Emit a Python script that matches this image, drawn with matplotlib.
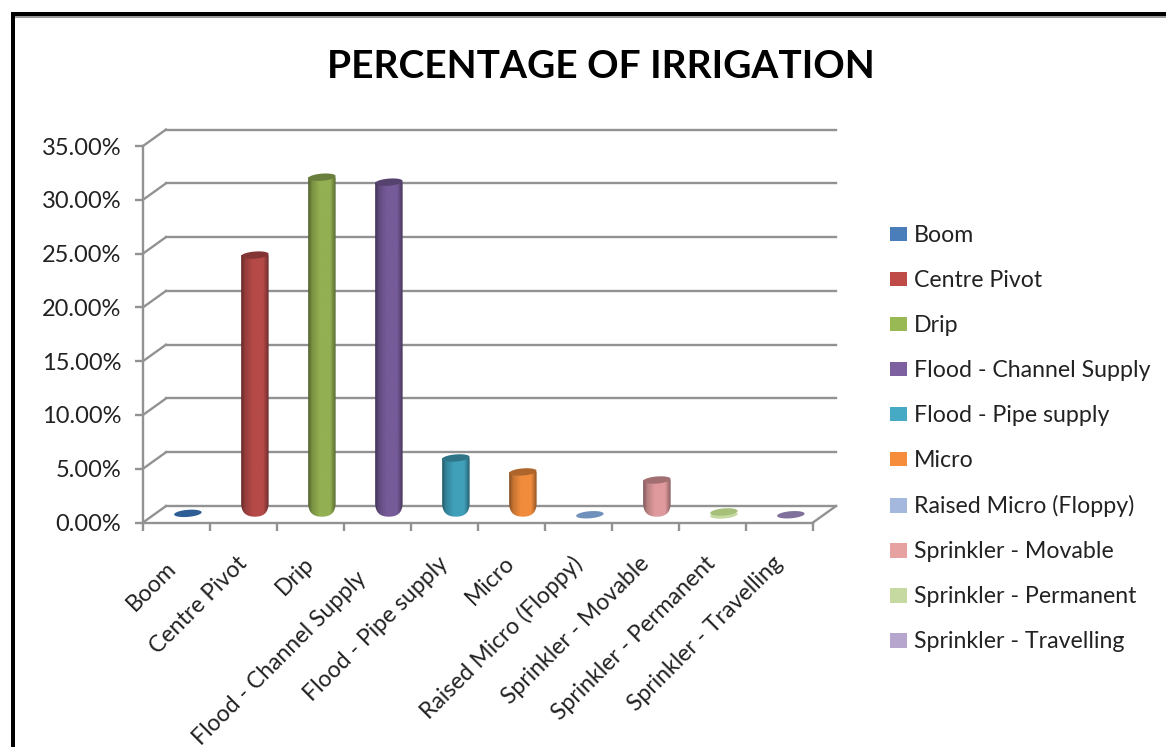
import matplotlib
matplotlib.use('Agg')
from matplotlib import pyplot as plt
from matplotlib.colors import LinearSegmentedColormap, to_rgb
from matplotlib.patches import Patch, PathPatch, Polygon, Rectangle
from matplotlib.path import Path
from matplotlib.transforms import ScaledTranslation
import numpy as np

categories = ['Boom', 'Centre Pivot', 'Drip', 'Flood - Channel Supply', 'Flood - Pipe supply',
              'Micro', 'Raised Micro (Floppy)', 'Sprinkler - Movable', 'Sprinkler - Permanent',
              'Sprinkler - Travelling']
values = [0.15, 24.16, 31.4, 30.94, 5.3, 4.0, 0.02, 3.25, 0.28, 0.02]
y_ticks = [0, 5, 10, 15, 20, 25, 30, 35]
legend_colors = ['#4a7ebb', '#be4b48', '#98b954', '#7d60a0', '#46aac5', '#f68d3c',
                 '#a3b8dc', '#e6a2a0', '#c6d9a0', '#b6a6cd']
body_colors = ['#2f5e96', '#b54a48', '#93b052', '#765b99', '#40a0ba', '#f08c3c',
               '#7090bc', '#df9a9d', '#a6c07a', '#80709c']

W, H = 1166, 747
LINE = '#929292'
LW = 1.7
plt.rcParams['font.family'] = ['Lato', 'DejaVu Sans']

fig = plt.figure(figsize=(W / 100, H / 100), dpi=100, facecolor='white')
# front plane of the fake 3d box: x 143-813, y 146-522.5 px
ax = fig.add_axes([143 / W, 1 - 522.5 / H, 670 / W, 376.5 / H])
ax.set_xlim(0, 10)
ax.set_ylim(0, 35)
ax.patch.set_visible(False)

# depth of the box in data units
dx, dy = 0.343, 1.53
# where the cylinders stand and how big they are
shift, base, a, b = 0.17, 0.70, 0.205, 0.33

# back wall + side wall grid
for v in y_ticks:
    ax.plot([dx, 10 + dx], [v + dy, v + dy], color=LINE, lw=LW, clip_on=False, zorder=1)
    ax.plot([0, dx], [v, v + dy], color=LINE, lw=LW, clip_on=False, zorder=1)
ax.plot([10, 10 + dx], [0, dy], color=LINE, lw=LW, clip_on=False, zorder=1)

for s in ['top', 'right']:
    ax.spines[s].set_visible(False)
for s in ['left', 'bottom']:
    ax.spines[s].set_color(LINE)
    ax.spines[s].set_linewidth(LW)

ax.set_yticks(y_ticks, [f'{v:.2f}%' for v in y_ticks], fontsize=17, color='#222222')
ax.tick_params(axis='y', length=5.8, width=LW, color=LINE, pad=10)
ax.set_xticks(np.arange(10) + 0.5, categories, rotation=45, ha='right', va='center',
              rotation_mode='anchor', fontsize=16.6, color='#222222')
ax.set_xticks(np.arange(11), minor=True)
ax.tick_params(axis='x', which='major', length=0, pad=27)
ax.tick_params(axis='x', which='minor', length=5.8, width=LW, color=LINE)

# two labels sit further down the slope than the others
for idx, ox, oy in [(0, -4, -5), (3, -14, -15)]:
    lab = ax.get_xticklabels()[idx]
    lab.set_transform(lab.get_transform() + ScaledTranslation(ox / 100, oy / 100, fig.dpi_scale_trans))


def shade(col, f):
    return tuple(c * f for c in to_rgb(col))


def top_ellipse(cx, cy):
    t = np.linspace(0, 2 * np.pi, 60)
    return np.column_stack([cx + a * np.cos(t), cy + b * np.sin(t) + 0.10 * np.cos(t)])


for i, v in enumerate(values):
    cx = i + 0.5 + shift
    top = base + v
    col = body_colors[i]
    if v > 1:
        # cylinder body, rounded at the bottom, shaded across its width
        low = base - 0.16
        verts = [(cx - a, top), (cx - a, low + 1.3), (cx - a, low + 0.3), (cx - 0.12, low),
                 (cx, low), (cx + 0.12, low), (cx + a, low + 0.3), (cx + a, low + 1.3),
                 (cx + a, top), (cx - a, top)]
        codes = [Path.MOVETO, Path.LINETO, Path.CURVE4, Path.CURVE4, Path.CURVE4,
                 Path.CURVE4, Path.CURVE4, Path.CURVE4, Path.LINETO, Path.CLOSEPOLY]
        body = PathPatch(Path(verts, codes), facecolor='none', edgecolor='none', clip_on=False, zorder=3)
        ax.add_patch(body)
        cmap = LinearSegmentedColormap.from_list(
            'cyl', [(0, shade(col, 0.55)), (0.14, shade(col, 0.82)), (0.42, col),
                    (0.8, col), (1, shade(col, 0.6))])
        im = ax.imshow(np.linspace(0, 1, 64).reshape(1, -1), cmap=cmap, aspect='auto',
                       extent=(cx - a, cx + a, low, top), zorder=3, interpolation='bilinear')
        im.set_clip_path(body)
        ax.add_patch(Polygon(top_ellipse(cx, top), closed=True, facecolor=shade(col, 0.72),
                             edgecolor='none', clip_on=False, zorder=4))
    else:
        # nearly empty series: only a disc, the thicker one shows a lighter rim
        if v > 0.2:
            ax.add_patch(Polygon(top_ellipse(cx, base), closed=True, facecolor=legend_colors[i],
                                 edgecolor='none', clip_on=False, zorder=3))
        ax.add_patch(Polygon(top_ellipse(cx, top), closed=True, facecolor=col,
                             edgecolor='none', clip_on=False, zorder=4))

ax.set_xlim(0, 10)
ax.set_ylim(0, 35)

fig.text(600.5 / W, 1 - 66 / H, 'PERCENTAGE OF IRRIGATION', ha='center', va='center',
         fontsize=28, fontweight='bold', color='black')

handles = [Patch(facecolor=c, edgecolor='none', label=l) for c, l in zip(legend_colors, categories)]
fig.legend(handles=handles, loc='upper left', bbox_to_anchor=(881 / W, 1 - 216 / H),
           frameon=False, fontsize=16.7, handlelength=0.73, handleheight=0.6, handletextpad=0.3,
           labelspacing=1.035, borderpad=0.4, borderaxespad=0, labelcolor='#222222')

# black frame of the screenshot, top and left only
fig.add_artist(Rectangle((11 / W, 0), 4 / W, 1 - 12 / H, transform=fig.transFigure, facecolor='black', edgecolor='none'))
fig.add_artist(Rectangle((11 / W, 1 - 16 / H), 1 - 11 / W, 4 / H, transform=fig.transFigure, facecolor='black', edgecolor='none'))
fig.add_artist(Rectangle((15 / W, 1 - 18 / H), 1 - 15 / W, 2 / H, transform=fig.transFigure, facecolor='#9a9a9a', edgecolor='none'))

fig.savefig('out.png', dpi=100)
